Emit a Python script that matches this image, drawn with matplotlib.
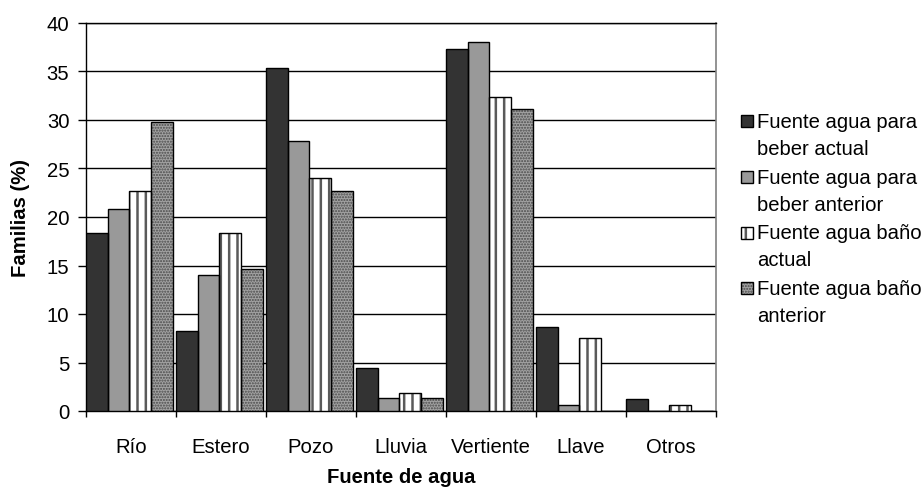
import matplotlib
matplotlib.use("Agg")
import matplotlib.pyplot as plt
from matplotlib.patches import Rectangle
import numpy as np

# Water source categories and family percentages per series
categories = ["Río", "Estero", "Pozo", "Lluvia", "Vertiente", "Llave", "Otros"]
beber_actual = [18.4, 8.2, 35.4, 4.4, 37.3, 8.7, 1.2]
beber_anterior = [20.8, 14.0, 27.8, 1.3, 38.0, 0.6, 0.0]
bano_actual = [22.7, 18.4, 24.0, 1.9, 32.4, 7.5, 0.6]
bano_anterior = [29.8, 14.6, 22.7, 1.3, 31.1, 0.0, 0.0]
series_labels = [
    "Fuente agua para\nbeber actual",
    "Fuente agua para\nbeber anterior",
    "Fuente agua baño\nactual",
    "Fuente agua baño\nanterior",
]
y_ticks = [0, 5, 10, 15, 20, 25, 30, 35, 40]

plt.rcParams["font.family"] = ["Liberation Sans", "DejaVu Sans"]
FS = 14.6

W, H = 923, 489
fig = plt.figure(figsize=(W / 100, H / 100), dpi=100)
ax = fig.add_axes([86 / W, 77 / H, 630 / W, 388 / H])

x = np.arange(len(categories))
width = 0.241
# fill colour, hatch pattern, hatch colour, hatch line width
styles = [
    ("#333333", None, "black", 1.0),
    ("#999999", None, "black", 1.0),
    ("white", "||", "#5a5a5a", 1.8),
    ("#a2a2a2", "......", "#4a4a4a", 1.0),
]
all_series = [beber_actual, beber_anterior, bano_actual, bano_anterior]

for i, (vals, (fc, hatch, hc, hlw)) in enumerate(zip(all_series, styles)):
    plt.rcParams["hatch.linewidth"] = hlw
    offs = (i - 1.5) * width - 0.018
    ax.bar(x + offs, vals, width, facecolor=fc, edgecolor=hc, linewidth=0,
           hatch=hatch, zorder=3)
    ax.bar(x + offs, vals, width, facecolor="none", edgecolor="black",
           linewidth=1.0, zorder=4)

ax.set_xlim(-0.5, len(categories) - 0.5)
ax.set_ylim(0, 40)
ax.set_yticks(y_ticks)
ax.yaxis.grid(True, color="black", linewidth=1.0, zorder=0)
ax.set_axisbelow(True)

# category boundaries as ticks, names centred between them
ax.set_xticks(np.arange(len(categories) + 1) - 0.5)
ax.set_xticklabels([])
ax.set_xticks(x, minor=True)
ax.set_xticklabels(categories, minor=True, fontsize=FS)
ax.tick_params(axis="x", which="minor", length=0, pad=19)
ax.tick_params(axis="x", which="major", length=4.5, width=1, color="black")
ax.tick_params(axis="y", length=6, width=1, pad=6, labelsize=FS)

for side in ["left", "bottom", "top"]:
    ax.spines[side].set_color("black")
    ax.spines[side].set_linewidth(1.0)
ax.spines["right"].set_color("#808080")
ax.spines["right"].set_linewidth(1.2)

ax.set_ylabel("Familias (%)", fontsize=FS, fontweight="bold", labelpad=12)
ax.set_xlabel("Fuente de agua", fontsize=FS, fontweight="bold", labelpad=7.5)

# legend: square swatch aligned with the first line of each two-line entry
entry_step = 55.8
for i, (fc, hatch, hc, hlw) in enumerate(styles):
    plt.rcParams["hatch.linewidth"] = hlw
    top = 116 + entry_step * i
    fx, fy = 741 / W, 1 - (top + 12) / H
    fw, fh = 12 / W, 12 / H
    fig.patches.append(Rectangle((fx, fy), fw, fh, transform=fig.transFigure,
                                 facecolor=fc, edgecolor=hc, linewidth=0,
                                 hatch=hatch))
    fig.patches.append(Rectangle((fx, fy), fw, fh, transform=fig.transFigure,
                                 facecolor="none", edgecolor="black",
                                 linewidth=1.0))
    line1, line2 = series_labels[i].split("\n")
    base = 127.8 + entry_step * i
    fig.text(757 / W, 1 - base / H, line1, fontsize=FS, va="baseline",
             ha="left")
    fig.text(757 / W, 1 - (base + 27) / H, line2, fontsize=FS, va="baseline",
             ha="left")

fig.savefig("out.png", dpi=100)
